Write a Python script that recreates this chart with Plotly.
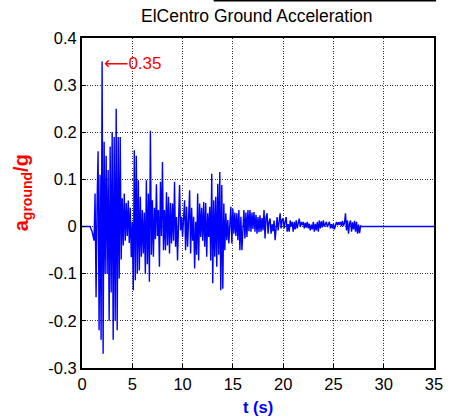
import numpy as np
import plotly.graph_objects as go

# El Centro ground acceleration (in g), sampled every 0.1 s from t = 0
DT = 0.1
accel_g = [
    # 0 - 1 s
    0, 0, 0, 0, 0, 0, 0, 0, 0, -0.005,
    # 1 - 2 s
    -0.01, -0.02, -0.03, 0.07, -0.15, 0.05, 0.16, -0.22, 0.11, -0.24,
    # 2 - 3 s
    0.35, -0.27, 0.18, -0.10, 0.15, -0.10, 0.12, -0.20, 0.17, -0.14,
    # 3 - 4 s
    0.20, -0.24, 0.19, -0.20, 0.25, -0.22, 0.19, -0.11, 0.19, -0.07,
    # 4 - 5 s
    0.06, -0.04, 0.07, -0.03, 0.05, -0.02, 0.055, -0.035, 0.04, -0.065,
    # 5 - 6 s
    0.01, -0.135, 0.162, -0.114, 0.15, -0.10, 0.098, -0.093, 0.063, -0.064,
    # 6 - 7 s
    0.035, -0.057, 0.03, -0.10, 0.098, -0.08, 0.07, -0.117, 0.203, -0.06,
    # 7 - 8 s
    0.056, -0.064, 0.04, -0.027, 0.09, -0.02, 0.035, -0.085, 0.095, -0.02,
    # 8 - 9 s
    0.137, -0.05, 0.035, -0.05, 0.073, -0.04, 0.063, -0.057, 0.05, -0.036,
    # 9 - 10 s
    0.049, -0.03, 0.095, -0.043, 0.02, -0.072, 0.01, 0.088, -0.008, 0.021,
    # 10 - 11 s
    -0.022, 0.02, 0.056, -0.05, 0.042, -0.043, 0.03, 0.077, -0.057, 0.04,
    # 11 - 12 s
    -0.03, 0.021, -0.089, 0.01, -0.06, 0.07, -0.072, 0.049, -0.022, 0.04,
    # 12 - 13 s
    -0.03, 0.052, -0.043, 0.05, -0.064, 0.028, -0.022, 0.042, -0.072, 0.112,
    # 13 - 14 s
    -0.12, 0.056, -0.064, 0.063, -0.085, 0.091, -0.06, 0.116, -0.135, 0.088,
    # 14 - 15 s
    -0.132, 0.049, -0.05, 0.028, -0.029, 0.014, -0.036, 0.01, 0.042, -0.036,
    # 15 - 16 s
    0.038, -0.015, 0.03, -0.02, 0.028, -0.029, 0.035, -0.05, 0.021, -0.05,
    # 16 - 17 s
    0.01, 0.035, -0.025, 0.03, -0.022, 0.035, -0.01, 0.035, -0.011, 0.03,
    # 17 - 18 s
    -0.005, 0.031, -0.011, 0.025, -0.015, 0.02, -0.012, 0.024, -0.011, 0.018,
    # 18 - 19 s
    -0.008, 0.035, -0.025, 0.02, 0.028, -0.015, 0.01, 0.017, -0.015, 0.005,
    # 19 - 20 s
    -0.01, 0.013, -0.029, 0.005, 0.02, -0.008, 0.01, 0.028, -0.004, 0.015,
    # 20 - 21 s
    0.017, -0.004, 0.01, 0.02, -0.011, 0.005, -0.011, 0.013, 0.0, 0.01,
    # 21 - 22 s
    -0.011, 0.01, -0.006, 0.013, -0.004, 0.008, 0.017, -0.001, 0.01, 0.003,
    # 22 - 23 s
    0.01, -0.004, 0.008, -0.002, 0.01, -0.004, 0.006, -0.008, 0.004, -0.006,
    # 23 - 24 s
    0.01, -0.011, 0.006, -0.008, 0.01, -0.011, 0.013, -0.004, 0.011, -0.002,
    # 24 - 25 s
    0.013, 0.0, 0.008, 0.01, -0.001, 0.006, 0.01, -0.004, 0.005, -0.004,
    # 25 - 26 s
    0.006, -0.006, 0.002, 0.01, 0.003, 0.009, 0.004, 0.01, 0.001, 0.012,
    # 26 - 27 s
    0.001, 0.008, 0.028, -0.008, 0.013, -0.015, 0.006, 0.013, -0.011, 0.009,
    # 27 - 27.8 s
    -0.006, 0.012, -0.011, 0.01, -0.015, 0.004, -0.014, 0.002, 0.0,
]
RECORD_END = 35.0      # record is zero-padded out to this time
PEAK_LABEL = 0.35

t = list(np.round(np.arange(len(accel_g)) * DT, 3)) + [RECORD_END]
a = accel_g + [0.0]
peak_idx = int(np.argmax(accel_g))

x_ticks = [0, 5, 10, 15, 20, 25, 30, 35]
y_ticks = [-0.3, -0.2, -0.1, 0, 0.1, 0.2, 0.3, 0.4]

FONT = "Liberation Sans, Arial, sans-serif"

fig = go.Figure()
fig.add_trace(go.Scatter(
    x=t, y=a, mode="lines",
    line=dict(color="#0000ff", width=1.4),
    hoverinfo="skip", showlegend=False,
))

axis_common = dict(
    showline=True, linecolor="black", linewidth=2, mirror=True,
    ticks="inside", ticklen=4, tickcolor="black",
    showgrid=True, gridcolor="#333333", gridwidth=1, griddash="1px,1.5px",
    zeroline=False,
    tickfont=dict(family=FONT, size=16.5, color="black"),
)

fig.update_xaxes(range=[0, 35], tickvals=x_ticks,
                 ticktext=[str(v) for v in x_ticks], **axis_common)
fig.update_yaxes(range=[-0.3, 0.4], tickvals=y_ticks,
                 ticktext=["-0.3", "-0.2", "-0.1", "0", "0.1", "0.2", "0.3", "0.4"],
                 **axis_common)

fig.update_layout(
    width=452, height=418,
    margin=dict(l=82, r=9, t=38, b=50),
    paper_bgcolor="white", plot_bgcolor="white",
    font=dict(family=FONT),
    annotations=[
        # title
        dict(text="ElCentro Ground Acceleration", xref="paper", yref="paper",
             x=0.497, y=1.067, xanchor="center", yanchor="middle",
             showarrow=False, font=dict(family=FONT, size=17.5, color="black")),
        # x label
        dict(text="<b>t (s)</b>", xref="paper", yref="paper",
             x=0.5, y=-0.118, xanchor="center", yanchor="middle",
             showarrow=False, font=dict(family=FONT, size=16.5, color="#0000ff")),
        # y label
        dict(text="<b>a<sub>ground</sub>/g</b>", xref="paper", yref="paper",
             x=-0.17, y=0.53, xanchor="center", yanchor="middle", textangle=-90,
             showarrow=False, font=dict(family=FONT, size=20, color="red")),
        # peak value label
        dict(text="<span style='font-family:DejaVu Sans'>\u27f5</span>" + f"{PEAK_LABEL:.2f}",
             x=t[peak_idx], y=accel_g[peak_idx],
             xref="x", yref="y", xanchor="left", yanchor="middle", xshift=0, yshift=-1,
             showarrow=False, font=dict(family=FONT, size=17, color="red")),
    ],
    shapes=[
        # lower edge of the neighbouring panel above
        dict(type="line", xref="paper", yref="paper",
             x0=0.374, x1=1.006, y0=1.1135, y1=1.1135,
             line=dict(color="black", width=2)),
    ],
)

fig.write_html("out.html")
